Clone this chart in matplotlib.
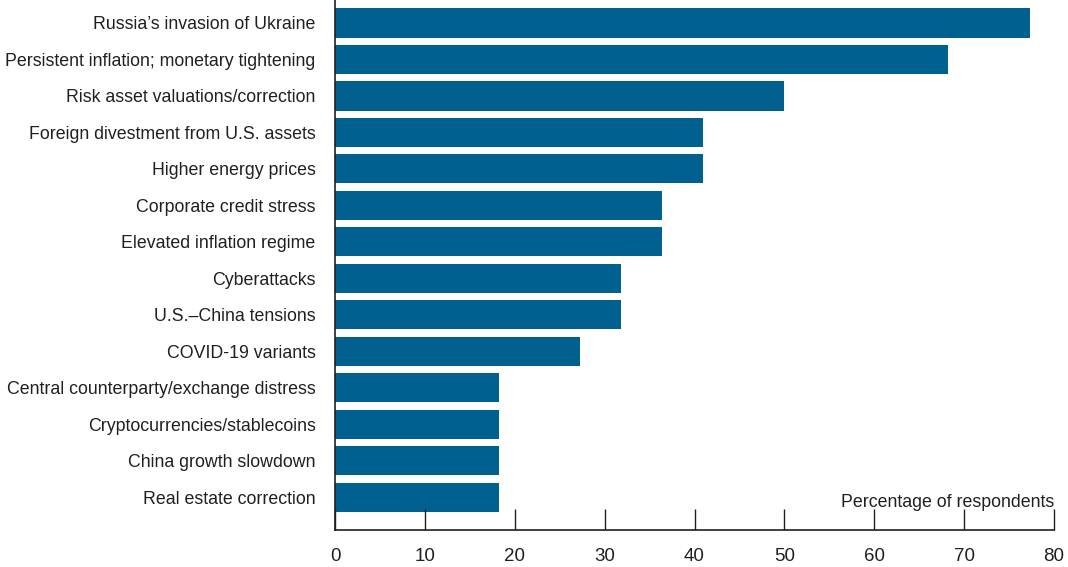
import matplotlib.pyplot as plt
from matplotlib import font_manager

categories = [
    "Russia\u2019s invasion of Ukraine",
    "Persistent inflation; monetary tightening",
    "Risk asset valuations/correction",
    "Foreign divestment from U.S. assets",
    "Higher energy prices",
    "Corporate credit stress",
    "Elevated inflation regime",
    "Cyberattacks",
    "U.S.\u2013China tensions",
    "COVID-19 variants",
    "Central counterparty/exchange distress",
    "Cryptocurrencies/stablecoins",
    "China growth slowdown",
    "Real estate correction",
]
values = [77.3, 68.2, 50.0, 40.9, 40.9, 36.4, 36.4, 31.8, 31.8, 27.3, 18.2, 18.2, 18.2, 18.2]
xticks = [0, 10, 20, 30, 40, 50, 60, 70, 80]

names = {f.name for f in font_manager.fontManager.ttflist}
family = ["Liberation Sans Narrow", "DejaVu Sans"] if "Liberation Sans Narrow" in names else ["Liberation Sans", "DejaVu Sans"]
plt.rcParams["font.family"] = family

fig = plt.figure(figsize=(10.68, 5.67), dpi=100)
ax = fig.add_axes([0.3137, 0.0653, 0.6732, 0.9347])

pos = list(range(len(categories)))
ax.barh(pos, values, height=0.8, color="#00608f", edgecolor="none")

ax.set_ylim(len(categories) - 1 + 0.9, -0.63)
ax.set_xlim(0, 80)
ax.set_yticks(pos)
ax.set_yticklabels(categories, fontsize=12.8, color="#231f20")
ax.tick_params(axis="y", length=0, pad=14)
ax.set_xticks(xticks)
ax.tick_params(axis="x", direction="in", length=15, width=1.0, color="#231f20",
               labelsize=13.5, labelcolor="#231f20", pad=13)

for s in ["top", "right"]:
    ax.spines[s].set_visible(False)
for s in ["left", "bottom"]:
    ax.spines[s].set_linewidth(1.2)
    ax.spines[s].set_color("#231f20")

ax.text(1.0, 0.035, "Percentage of respondents", transform=ax.transAxes,
        ha="right", va="bottom", fontsize=12.8, color="#231f20")

fig.savefig("out.png", dpi=100)
